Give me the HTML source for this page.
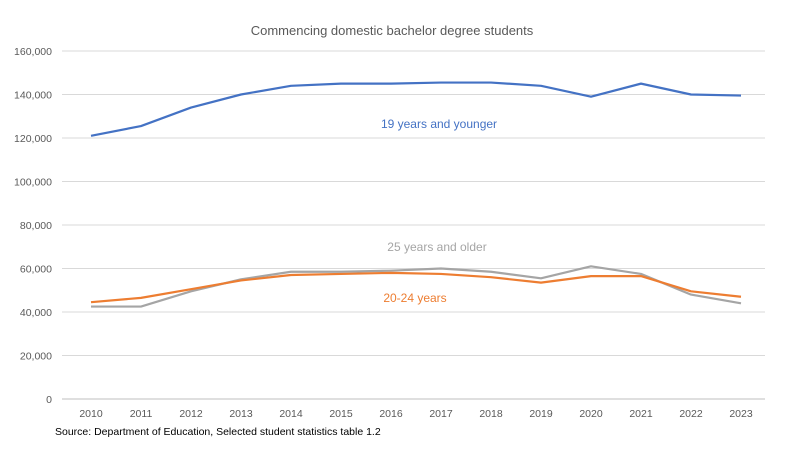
<!DOCTYPE html>
<html><head><meta charset="utf-8"><style>
body{margin:0;background:#fff;font-family:"Liberation Sans",sans-serif}
svg text{font-family:"Liberation Sans",sans-serif}
</style></head><body>
<svg width="800" height="450" id="c">
<text x="392" y="35" text-anchor="middle" font-size="13" fill="#595959">Commencing domestic bachelor degree students</text>
<text x="55" y="435" font-size="10.5" fill="#000">Source: Department of Education, Selected student statistics table 1.2</text>
<text x="439" y="128" text-anchor="middle" font-size="12" fill="#4472c4">19 years and younger</text>
<text x="437" y="251" text-anchor="middle" font-size="12" fill="#a5a5a5">25 years and older</text>
<text x="415" y="302" text-anchor="middle" font-size="12" fill="#ed7d31">20-24 years</text>
</svg>
<script>
const years=[2010,2011,2012,2013,2014,2015,2016,2017,2018,2019,2020,2021,2022,2023];
const young=[121000,125500,134000,140000,144000,145000,145000,145500,145500,144000,139000,145000,140000,139500];
const older=[42500,42500,49500,55000,58500,58500,59000,60000,58500,55500,61000,57500,48000,44000];
const mid=[44500,46500,50500,54500,57000,57500,58000,57500,56000,53500,56500,56500,49500,47000];
const ticks=[0,20000,40000,60000,80000,100000,120000,140000,160000];
const svg=document.getElementById('c');const NS='http://www.w3.org/2000/svg';
const x=i=>91+i*50;const y=v=>399-v/160000*348;
function mk(t,a){const e=document.createElementNS(NS,t);for(const k in a)e.setAttribute(k,a[k]);svg.insertBefore(e,svg.firstChild);return e;}
ticks.forEach(t=>{const l=mk('line',{x1:62,x2:765,y1:y(t),y2:y(t),stroke:t?'#d9d9d9':'#bfbfbf','stroke-width':1});


const tx=mk('text',{x:52,y:y(t)+4,'text-anchor':'end','font-size':'10.5',fill:'#595959'});tx.textContent=t.toLocaleString('en-US');

});
years.forEach((yr,i)=>{const tx=mk('text',{x:x(i),y:417,'text-anchor':'middle','font-size':'10.5',fill:'#595959'});tx.textContent=yr;

});
function line(d,c,n){const p=svg.appendChild(document.createElementNS(NS,'polyline'));
p.setAttribute('points',d.map((v,i)=>x(i)+','+y(v)).join(' '));p.setAttribute('fill','none');p.setAttribute('stroke',c);p.setAttribute('stroke-width','2.2');p.setAttribute('stroke-linejoin','round');

}
line(older,'#a5a5a5','series-25-older');
line(mid,'#ed7d31','series-20-24');
line(young,'#4472c4','series-19-younger');
</script>
</body></html>
